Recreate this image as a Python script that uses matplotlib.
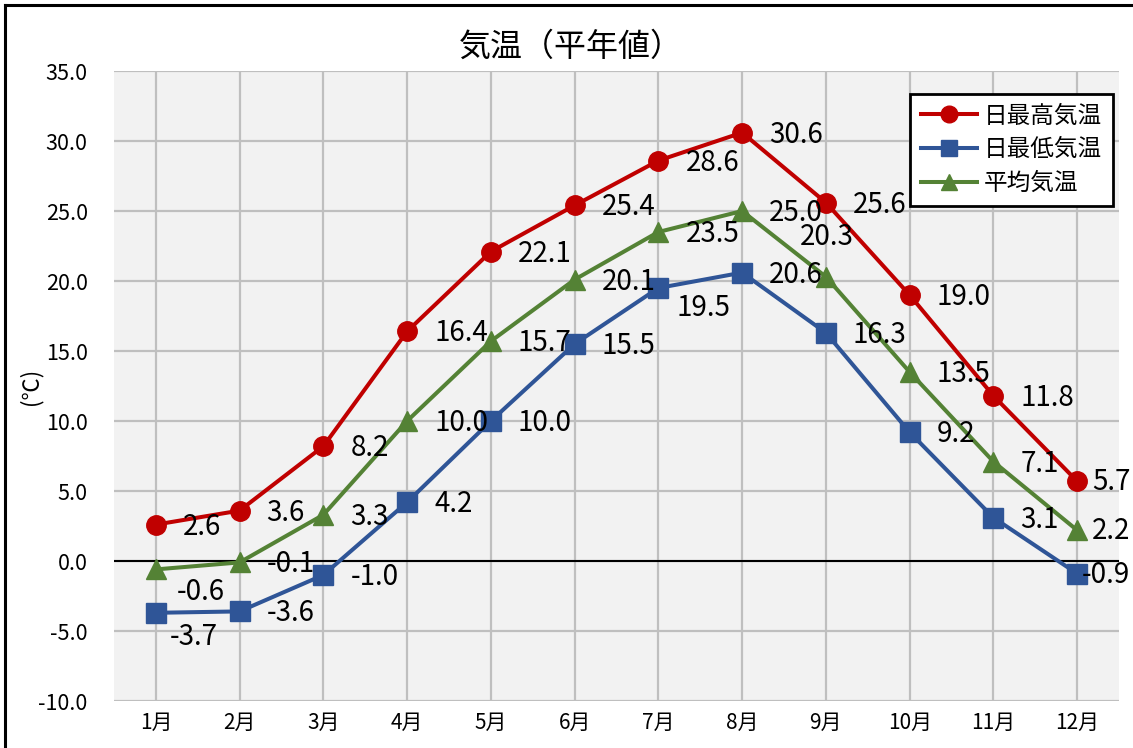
import numpy as np
import matplotlib.pyplot as plt
from matplotlib.lines import Line2D

plt.rcParams['font.family'] = ['Noto Sans CJK JP', 'DejaVu Sans']

months = ['1月', '2月', '3月', '4月', '5月', '6月', '7月', '8月', '9月', '10月', '11月', '12月']
t_max = [2.6, 3.6, 8.2, 16.4, 22.1, 25.4, 28.6, 30.6, 25.6, 19.0, 11.8, 5.7]
t_min = [-3.7, -3.6, -1.0, 4.2, 10.0, 15.5, 19.5, 20.6, 16.3, 9.2, 3.1, -0.9]
t_avg = [-0.6, -0.1, 3.3, 10.0, 15.7, 20.1, 23.5, 25.0, 20.3, 13.5, 7.1, 2.2]

series = [
    ('日最高気温', t_max, '#C00000', 'o'),
    ('日最低気温', t_min, '#2F5597', 's'),
    ('平均気温', t_avg, '#548235', '^'),
]

# label offsets in pixels (dx, dy, ha); default sits to the right of the marker
label_fix = {
    ('日最低気温', 0): (14, -24, 'left'),
    ('平均気温', 0): (21, -23, 'left'),
    ('日最低気温', 6): (18, -20, 'left'),
    ('平均気温', 8): (-26, 40, 'left'),
}

fig = plt.figure(figsize=(11.33, 7.48), dpi=100)
ax = fig.add_axes([114 / 1133, 1 - 701 / 748, 1005 / 1133, 630 / 748])
ax.set_facecolor('#F2F2F2')

x = np.arange(len(months))
for name, vals, col, mk in series:
    ax.plot(x, vals, color=col, lw=2.9, marker=mk, ms=14, mfc=col, mec=col,
            label=name, zorder=3, solid_capstyle='round')
    for i, v in enumerate(vals):
        dx, dy, ha = label_fix.get((name, i), (27, -2, 'left'))
        if i == len(vals) - 1:
            dx, dy, ha = 53, -1, 'right'
        ax.annotate(f'{v:.1f}', (i, v), xytext=(dx, dy), textcoords='offset pixels',
                    ha=ha, va='center', fontsize=20, color='black', zorder=4)

ax.set_xlim(-0.5, 11.5)
ax.set_ylim(-10, 35)
ax.set_yticks(np.arange(-10, 36, 5))
ax.set_yticklabels([f'{v:.1f}' for v in np.arange(-10, 36, 5)])
ax.set_xticks(x)
ax.set_xticklabels(months)
ax.grid(True, color='#BFBFBF', lw=1.6)
ax.set_axisbelow(True)
ax.axhline(0, color='black', lw=1.5, zorder=2)
for s in ax.spines.values():
    s.set_visible(False)
ax.tick_params(axis='both', length=0, labelsize=15.5)
ax.tick_params(axis='y', pad=19)
ax.tick_params(axis='x', pad=8, labelsize=15)

ax.set_ylabel('(℃)', fontsize=16, labelpad=8)
ax.yaxis.set_label_coords(-72 / 1005, 0.5)
fig.text(571 / 1133, 1 - 47 / 748, '気温（平年値）', ha='center', va='center', fontsize=23)

handles = [Line2D([], [], color=c, lw=2.9, marker=m, ms=12) for _, _, c, m in series]
leg = ax.legend(handles, [s[0] for s in series], loc='upper right',
                bbox_to_anchor=(1113 / 1133, 1 - 94 / 748), bbox_transform=fig.transFigure,
                fontsize=17, frameon=True, fancybox=False, edgecolor='black',
                handlelength=2.4, labelspacing=0.45, borderpad=0.45, handletextpad=0.3,
                borderaxespad=0)
leg.get_frame().set_linewidth(2)
leg.get_frame().set_facecolor('white')
leg.get_frame().set_alpha(1)

# outer chart border
fig.add_artist(Line2D([5 / 1133, 5 / 1133], [0, 1 - 5 / 748], color='black', lw=2.2,
                      transform=fig.transFigure))
fig.add_artist(Line2D([5 / 1133, 1], [1 - 5 / 748, 1 - 5 / 748], color='black', lw=2.2,
                      transform=fig.transFigure))

fig.savefig('out.png', dpi=100)
